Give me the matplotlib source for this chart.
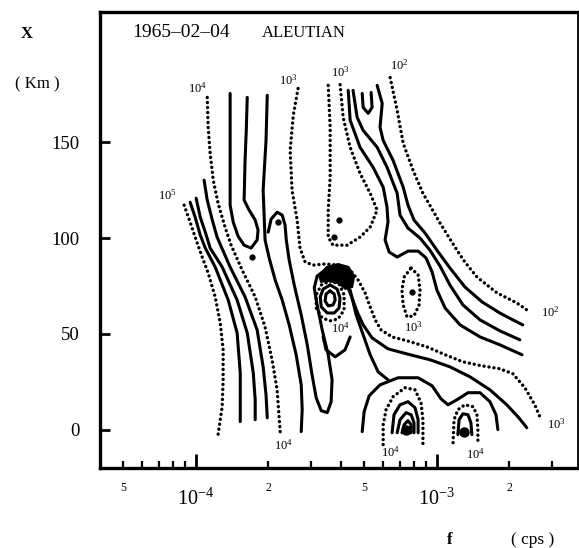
import numpy as np
import matplotlib.pyplot as plt

plt.rcParams['font.family'] = 'Liberation Serif'

# axis range
f_lim = (4.0e-5, 3.85e-3)
x_lim = (-20, 218)

# contour lines: (log10 f [cps], X [km])
dot_1e5 = [(-4.049, 117.2), (-4.024, 108.3), (-3.999, 99.0), (-3.974, 90.1), (-3.949, 81.8),
           (-3.920, 69.3), (-3.899, 55.7), (-3.887, 41.7), (-3.887, 26.0), (-3.891, 12.0), (-3.908, -2.6)]
solid_a = [(-4.024, 118.7), (-4.003, 110.9), (-3.982, 101.6), (-3.961, 94.8), (-3.920, 84.9),
           (-3.866, 67.7), (-3.829, 50.5), (-3.816, 29.7), (-3.816, 15.6), (-3.816, 4.2)]
solid_b = [(-3.999, 120.8), (-3.982, 110.9), (-3.961, 103.1), (-3.941, 94.8), (-3.891, 84.9),
           (-3.829, 67.7), (-3.787, 50.5), (-3.762, 29.7), (-3.754, 15.6), (-3.754, 5.2)]
solid_c = [(-3.966, 130.2), (-3.953, 119.8), (-3.932, 109.4), (-3.912, 100.5), (-3.858, 84.9),
           (-3.796, 69.3), (-3.746, 52.1), (-3.721, 32.8), (-3.709, 18.2), (-3.704, 6.2)]
dot_1e4 = [(-3.953, 173.4), (-3.949, 157.8), (-3.941, 144.3), (-3.928, 130.2), (-3.908, 118.2),
           (-3.879, 105.7), (-3.854, 96.3), (-3.808, 83.3), (-3.754, 69.3), (-3.713, 53.6),
           (-3.684, 36.5), (-3.663, 20.8), (-3.650, -1.6)]
tongue = [(-3.858, 175.5), (-3.858, 145.8), (-3.858, 117.2), (-3.845, 108.3), (-3.825, 101.0),
          (-3.800, 96.3), (-3.771, 94.8), (-3.746, 99.0), (-3.742, 104.2), (-3.754, 109.4),
          (-3.779, 114.6), (-3.800, 119.8), (-3.796, 140.6), (-3.791, 156.2), (-3.787, 173.4)]
solid_p = [(-3.704, 174.5), (-3.709, 151.0), (-3.721, 125.0), (-3.717, 112.0), (-3.713, 99.0),
           (-3.696, 89.6), (-3.671, 78.1), (-3.642, 67.7), (-3.613, 54.7), (-3.584, 39.1),
           (-3.563, 23.4), (-3.559, 10.4), (-3.563, -1.0)]
solid_loop = [(-3.700, 103.1), (-3.688, 109.9), (-3.663, 113.5), (-3.642, 112.0), (-3.630, 106.8),
              (-3.625, 99.0), (-3.613, 88.5), (-3.592, 75.5), (-3.563, 59.9), (-3.538, 44.3),
              (-3.518, 28.6), (-3.501, 16.7), (-3.480, 9.9), (-3.455, 8.9), (-3.439, 14.6),
              (-3.435, 26.0), (-3.451, 39.1), (-3.476, 52.1), (-3.497, 65.1), (-3.509, 74.0),
              (-3.497, 80.2), (-3.464, 83.3), (-3.418, 83.8)]
dot_1e3a = [(-3.576, 178.1), (-3.596, 164.1), (-3.609, 145.8), (-3.601, 125.0), (-3.580, 109.4),
            (-3.568, 94.8), (-3.547, 87.5), (-3.513, 85.9), (-3.464, 86.5), (-3.410, 85.9),
            (-3.360, 83.3), (-3.327, 78.1), (-3.298, 71.4), (-3.277, 64.1), (-3.256, 57.3),
            (-3.232, 52.1), (-3.186, 48.4), (-3.124, 46.4), (-3.041, 43.2), (-2.966, 39.1),
            (-2.892, 35.4), (-2.813, 33.3), (-2.739, 31.8), (-2.685, 29.2), (-2.635, 21.9),
            (-2.594, 13.0), (-2.573, 6.8)]
dot_1e3b = [(-3.451, 179.7), (-3.443, 157.8), (-3.443, 131.8), (-3.451, 114.6), (-3.451, 100.5),
            (-3.431, 96.3), (-3.373, 96.3), (-3.319, 100.5), (-3.277, 105.7), (-3.248, 114.6),
            (-3.277, 123.4), (-3.319, 133.8), (-3.360, 147.4), (-3.389, 163.0), (-3.402, 180.7)]
solid_ra = [(-3.368, 177.1), (-3.360, 161.5), (-3.319, 147.4), (-3.265, 137.0), (-3.223, 126.6),
            (-3.207, 116.1), (-3.203, 108.3), (-3.215, 99.0), (-3.198, 92.7), (-3.165, 90.1),
            (-3.120, 93.2), (-3.078, 93.2), (-3.045, 89.6), (-3.020, 82.3), (-3.000, 72.9),
            (-2.966, 63.5), (-2.904, 54.7), (-2.821, 48.4), (-2.739, 44.3), (-2.647, 39.1)]
solid_rb = [(-3.348, 177.1), (-3.331, 163.0), (-3.306, 156.2), (-3.248, 147.4), (-3.207, 137.0),
            (-3.165, 123.4), (-3.153, 112.0), (-3.120, 105.2), (-3.070, 100.0), (-3.029, 93.7),
            (-2.987, 85.4), (-2.946, 75.5), (-2.892, 65.1), (-2.821, 57.3), (-2.739, 51.6),
            (-2.656, 46.9)]
solid_rc = [(-3.248, 179.7), (-3.227, 170.3), (-3.236, 157.8), (-3.223, 151.0), (-3.182, 140.6),
            (-3.140, 126.6), (-3.120, 117.2), (-3.095, 109.4), (-3.049, 102.6), (-3.000, 93.7),
            (-2.946, 84.4), (-2.884, 74.5), (-2.813, 66.7), (-2.739, 60.9), (-2.685, 57.3),
            (-2.644, 54.7)]
dot_1e2 = [(-3.194, 183.8), (-3.165, 166.7), (-3.140, 149.5), (-3.099, 135.4), (-3.058, 123.4),
           (-2.987, 107.8), (-2.917, 93.7), (-2.884, 87.5), (-2.834, 79.7), (-2.751, 71.4),
           (-2.668, 66.1), (-2.627, 62.5)]
small_u = [(-3.310, 175.5), (-3.306, 168.2), (-3.285, 165.1), (-3.269, 168.2), (-3.273, 176.0)]
dot_1e3c = [(-3.107, 84.4), (-3.078, 80.7), (-3.070, 72.9), (-3.074, 65.1), (-3.095, 59.4),
            (-3.124, 58.9), (-3.140, 65.1), (-3.145, 72.9), (-3.136, 79.7), (-3.107, 84.4)]
dot_peak = [(-3.443, 77.6), (-3.406, 76.0), (-3.385, 70.3), (-3.385, 62.5), (-3.410, 57.8),
            (-3.443, 56.8), (-3.476, 58.3), (-3.501, 63.5), (-3.501, 70.3), (-3.480, 75.5), (-3.443, 77.6)]
peak_1 = [(-3.443, 75.5), (-3.414, 73.4), (-3.402, 68.7), (-3.406, 63.5), (-3.426, 60.9),
          (-3.455, 60.9), (-3.480, 64.1), (-3.484, 69.3), (-3.472, 73.4), (-3.443, 75.5)]
peak_2 = [(-3.443, 72.4), (-3.426, 70.8), (-3.422, 67.7), (-3.431, 65.1), (-3.451, 64.6),
          (-3.464, 67.2), (-3.460, 70.8), (-3.443, 72.4)]
peak_u = [(-3.472, 48.4), (-3.460, 41.7), (-3.422, 38.0), (-3.381, 41.7), (-3.360, 48.4)]
knot = [(-3.493, 80.2), (-3.460, 85.4), (-3.410, 87.0), (-3.364, 85.4), (-3.339, 80.2),
        (-3.348, 74.0), (-3.381, 72.9), (-3.410, 76.0), (-3.451, 77.1), (-3.484, 76.6), (-3.493, 80.2)]
solid_k = [(-3.393, 80.7), (-3.373, 75.5), (-3.352, 68.7), (-3.331, 61.5), (-3.306, 54.7),
           (-3.269, 47.9), (-3.203, 42.2), (-3.111, 39.1), (-3.029, 36.5), (-2.946, 32.8),
           (-2.863, 27.6), (-2.780, 20.8), (-2.710, 13.0), (-2.660, 6.2), (-2.627, 1.0)]
solid_k2 = [(-3.360, 72.9), (-3.335, 59.9), (-3.306, 49.5), (-3.277, 39.1), (-3.244, 30.2), (-3.203, 26.0)]
solid_arch = [(-3.310, -1.0), (-3.302, 9.4), (-3.281, 17.7), (-3.236, 23.4), (-3.161, 27.1),
              (-3.078, 27.1), (-3.020, 22.9), (-2.983, 16.1), (-2.954, 13.0), (-2.917, 15.6),
              (-2.871, 19.3), (-2.821, 19.3), (-2.780, 14.6), (-2.755, 7.8), (-2.747, 0.0)]
dot_left_bump = [(-3.223, -7.8), (-3.223, 2.6), (-3.211, 10.4), (-3.182, 17.2), (-3.132, 21.9),
                 (-3.091, 20.8), (-3.066, 14.1), (-3.058, 5.2), (-3.058, -7.8)]
left_bump_1 = [(-3.186, -1.6), (-3.178, 7.8), (-3.153, 13.0), (-3.120, 14.6), (-3.091, 11.5),
               (-3.078, 5.2), (-3.078, -1.6)]
left_bump_2 = [(-3.165, -1.6), (-3.153, 5.2), (-3.128, 8.9), (-3.107, 7.8), (-3.095, 3.6), (-3.095, -1.6)]
left_bump_3 = [(-3.145, -1.6), (-3.136, 2.6), (-3.120, 4.7), (-3.107, 2.6), (-3.107, -1.6)]
dot_right_bump = [(-2.933, -6.8), (-2.929, 5.2), (-2.913, 10.4), (-2.884, 13.0), (-2.850, 12.0),
                  (-2.834, 7.8), (-2.830, 0.0), (-2.830, -6.8)]
right_bump_1 = [(-2.913, -2.6), (-2.908, 5.2), (-2.892, 8.3), (-2.871, 7.8), (-2.859, 3.6), (-2.855, -2.6)]

# single dots and blobs
dot_lf = [-3.659, -3.767, -3.103, -3.406, -3.426]
dot_x = [108.3, 90.1, 71.9, 109.4, 100.5]
blob_lf = [-3.128, -2.888]
blob_x = [0.0, -1.0]

# contour labels: exponent, log10 f, X
label_exp = ['4', '3', '3', '2', '5', '4', '3', '2', '3', '4', '4', '4']
label_lf = [-3.995, -3.617, -3.402, -3.157, -4.119, -3.402, -3.099, -2.531, -2.506, -3.638, -3.194, -2.842]
label_x = [178.1, 182.3, 186.4, 190.1, 122.4, 53.1, 53.6, 61.5, 2.6, -8.3, -12.0, -13.0]

solid_lines = [solid_a, solid_b, solid_c, tongue, solid_p, solid_loop, solid_ra, solid_rb,
               solid_rc, small_u, peak_1, peak_2, peak_u, solid_k, solid_k2, solid_arch,
               left_bump_1, left_bump_2, left_bump_3, right_bump_1]
dotted_lines = [dot_1e5, dot_1e4, dot_1e3a, dot_1e3b, dot_1e2, dot_1e3c, dot_peak,
                dot_left_bump, dot_right_bump]

# axis ticks
y_ticks = [0, 50, 100, 150]
minor_f = [5e-5, 6e-5, 7e-5, 8e-5, 9e-5, 2e-4, 3e-4, 4e-4, 5e-4, 6e-4, 7e-4, 8e-4, 9e-4, 2e-3, 3e-3]
major_f = [1e-4, 1e-3]
small_tick_f = [5e-5, 2e-4, 5e-4, 2e-3]
small_tick_txt = ['5', '2', '5', '2']


fig = plt.figure(figsize=(5.79, 5.48), dpi=100)
ax = fig.add_axes([0.1727, 0.1460, 0.8256, 0.8321])
ax.set_xscale('log')
ax.set_xlim(*f_lim)
ax.set_ylim(*x_lim)

for line in solid_lines:
    lf, x = np.array(line).T
    ax.plot(10 ** lf, x, color='black', lw=2.2, solid_capstyle='round', solid_joinstyle='round')

for line in dotted_lines:
    lf, x = np.array(line).T
    ax.plot(10 ** lf, x, color='black', lw=2.4, linestyle=(0, (0.05, 1.45)), dash_capstyle='round')

lf, x = np.array(knot).T
ax.fill(10 ** lf, x, color='black', lw=0)
ax.plot(10 ** np.array(dot_lf), dot_x, 'o', color='black', ms=3.5)
ax.plot(10 ** np.array(blob_lf), blob_x, 'o', color='black', ms=6.5)

for e, lf, x in zip(label_exp, label_lf, label_x):
    ax.text(10 ** lf, x, r'$\mathregular{10^{%s}}$' % e, fontsize=9, ha='center', va='center')

ax.text(0.068, 0.955, '1965\u201302\u201304', transform=ax.transAxes, fontsize=14, va='center')
ax.text(0.338, 0.955, 'ALEUTIAN', transform=ax.transAxes, fontsize=12, va='center')

# frame and ticks
for side in ['left', 'top', 'bottom']:
    ax.spines[side].set_linewidth(2.4)
ax.spines['right'].set_linewidth(1.3)

ax.set_yticks(y_ticks)
ax.set_yticklabels([str(v) for v in y_ticks], fontsize=13.5)
ax.tick_params(axis='y', direction='in', length=7, width=2, pad=15)
ax.set_xticks(major_f)
ax.set_xticks(minor_f, minor=True)
ax.tick_params(axis='x', which='major', direction='in', length=10, width=2, labelbottom=False)
ax.tick_params(axis='x', which='minor', direction='in', length=5, width=1.6, labelbottom=False)

xt = ax.get_xaxis_transform()
for f, t in zip(small_tick_f, small_tick_txt):
    ax.text(f, -0.044, t, transform=xt, fontsize=8.5, ha='center', va='center')
for f, e in zip(major_f, ['-4', '-3']):
    ax.text(f, -0.068, r'$\mathregular{10^{%s}}$' % e.replace('-', '\u2212'), transform=xt,
            fontsize=14.5, ha='center', va='center')

fig.text(27 / 579, 1 - 34 / 548, 'X', fontsize=12, fontweight='bold', ha='center', va='center')
fig.text(37 / 579, 1 - 84 / 548, '( Km )', fontsize=12, ha='center', va='center')
fig.text(450 / 579, 1 - 540 / 548, 'f', fontsize=12, fontweight='bold', ha='center', va='center')
fig.text(533 / 579, 1 - 540 / 548, '( cps )', fontsize=12.5, ha='center', va='center')

fig.savefig('out.png', dpi=100)
